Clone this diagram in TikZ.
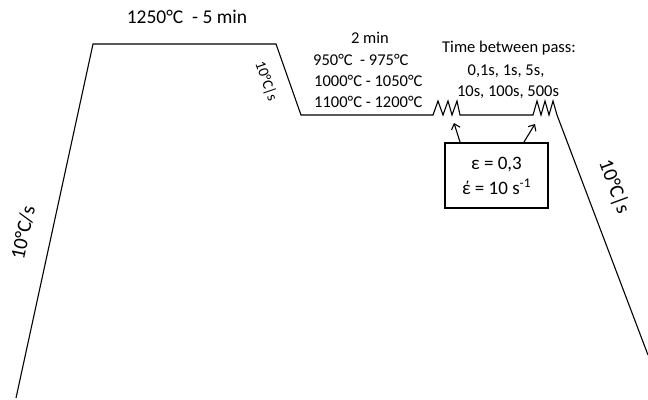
\documentclass[tikz,border=0pt]{standalone}
\usepackage{fontspec}
\setmainfont{Carlito}
\usetikzlibrary{arrows.meta}
\tikzset{
  curve/.style={line width=1.1pt, line join=miter},
  lbl/.style={inner sep=0pt, font=\fontsize{16.5}{20}\selectfont},
  biglbl/.style={inner sep=0pt, font=\fontsize{19.5}{23}\selectfont},
  ratelbl/.style={inner sep=0pt, font=\fontsize{20.5}{24}\selectfont},
  smallrate/.style={inner sep=0pt, font=\fontsize{15}{18}\selectfont},
  strainbox/.style={draw, line width=1.1pt, minimum width=103pt, minimum height=65pt, inner sep=0pt, align=center, font=\fontsize{19}{25}\selectfont},
  passarrow/.style={line width=1.1pt, -{Straight Barb[length=5pt,width=9pt,line width=1.1pt]}}
}
\begin{document}
\begin{tikzpicture}[x=1pt,y=-1pt]
\useasboundingbox (0,0) rectangle (648,399);
% thermal cycle
\coordinate (p0) at (16,398);
\coordinate (p1) at (93,44);
\coordinate (p2) at (276,44);
\coordinate (p3) at (301,115);
\coordinate (z1) at (433,115);
\coordinate (z2) at (460,115);
\coordinate (z3) at (533,115);
\coordinate (z4) at (557,115);
\coordinate (pe) at (648,355);
\draw[curve] (p0) -- (p1) -- (p2) -- (p3) -- (z1)
  -- (438,101) -- (443,115) -- (448,101) -- (452,115) -- (457,101) -- (z2)
  -- (z3)
  -- (537,101) -- (541,115) -- (545,101) -- (549,115) -- (553,101) -- (z4)
  -- (pe);
% labels
\node[biglbl] (top) at (187,17) {1250°C\ \ - 5 min};
\node[ratelbl, rotate=78] (heat) at (23,233) {10°C/s};
\node[smallrate, rotate=-70.6] (cool1) at (266,81) {10°C|s};
\node[ratelbl, rotate=-69.7] (cool2) at (614,187) {10°C|s};
\node[lbl] (hold) at (370,38) {2 min};
\node[lbl, anchor=west] (t1) at (313,60) {950°C\ \ - 975°C};
\node[lbl, anchor=west] (t2) at (314,81) {1000°C - 1050°C};
\node[lbl, anchor=west] (t3) at (314,102) {1100°C - 1200°C};
\node[lbl] (tb1) at (509,48) {Time between pass:};
\node[lbl] (tb2) at (506,71) {0,1s, 1s, 5s,};
\node[lbl] (tb3) at (508,92) {10s, 100s, 500s};
% strain box
\node[strainbox] (box) at (496.5,175.5) {ε = 0,3\\έ = 10 s\textsuperscript{-1}};
\coordinate (a1s) at (460,142);
\coordinate (a1e) at (454,123);
\coordinate (a2s) at (524,142);
\coordinate (a2e) at (535,124);
\draw[passarrow] (a1s) -- (a1e);
\draw[passarrow] (a2s) -- (a2e);
\end{tikzpicture}
\end{document}
